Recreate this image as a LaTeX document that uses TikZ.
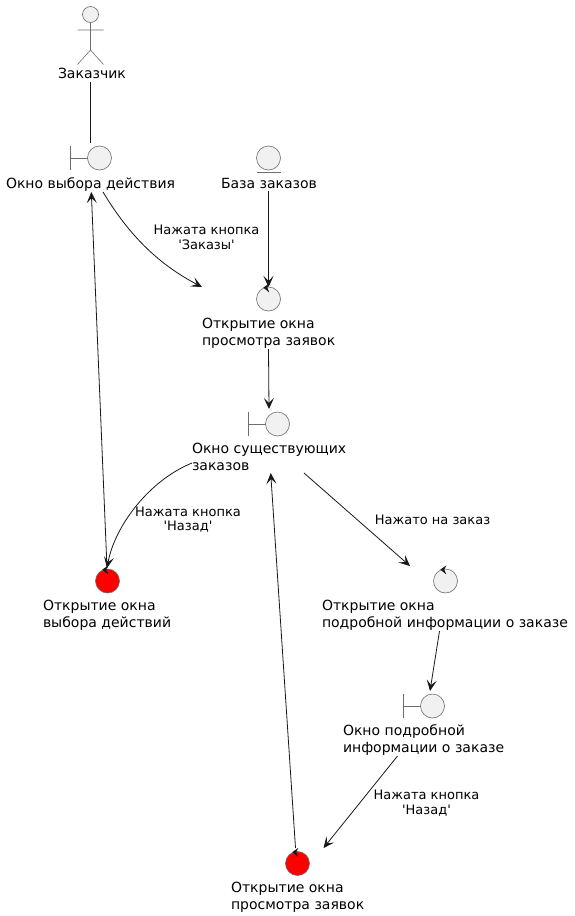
\documentclass[tikz,border=0pt]{standalone}
\usepackage{fontspec}
\newfontfamily\uifont{DejaVu Sans}
\usetikzlibrary{arrows.meta,calc}
\definecolor{edgecol}{HTML}{181818}
\definecolor{shapecol}{HTML}{6E6E6E}
\definecolor{shapefill}{HTML}{F1F1F1}
\tikzset{
  every picture/.style={x=1pt,y=-1pt},
  box/.style={minimum width=#1,inner sep=0pt,outer sep=0pt,draw=none},
  icon/.style={circle,draw=shapecol,fill=shapefill,line width=0.6pt,minimum size=24pt,inner sep=0pt,outer sep=0pt},
  redicon/.style={icon,fill=red},
  stroke/.style={draw=shapecol,line width=0.6pt},
  lbl/.style={font=\uifont\fontsize{14}{16.6}\selectfont,inner sep=0pt,outer sep=0pt,anchor=base west,align=left,text=black},
  elbl/.style={font=\uifont\fontsize{13}{14.5}\selectfont,inner sep=0pt,outer sep=0pt,anchor=base,align=center,text=black},
  link/.style={draw=edgecol,line width=0.8pt},
  flow/.style={link,-{Stealth[length=11pt,width=10pt,inset=5pt,color=edgecol]}},
  ctrl/.style={fill=edgecol,draw=none}
}
\newcommand{\ctrlarrow}[1]{\fill[ctrl] ([shift={(-5.2,0.6)}]#1.north) -- ++(6,-4.2) -- ++(-2,4.2) -- ++(2,4.8) -- cycle;}
\begin{document}
\begin{tikzpicture}
\useasboundingbox (0,0) rectangle (575,916);
% invisible extents of each element
\node[box=67pt,minimum height=76pt] (n1) at (90.5,44) {};
\node[box=169pt,minimum height=49pt] (n2) at (90.5,167.5) {};
\node[box=95pt,minimum height=48pt] (n3) at (268.5,167) {};
\node[box=133pt,minimum height=62pt] (n4) at (268.5,318) {};
\node[box=154pt,minimum height=64pt] (n5) at (269,441) {};
\node[box=129pt,minimum height=63pt] (n6) at (107.5,599.5) {};
\node[box=246pt,minimum height=65pt] (n7) at (445,598.5) {};
\node[box=161pt,minimum height=65pt] (n8) at (423.5,723.5) {};
\node[box=133pt,minimum height=65pt] (n9) at (297.5,880.5) {};
% connectors
\draw[link] (n1.south) -- (n2.north);
\draw[flow] ($(n6.north)+(-0.5,0)$) -- ($(n2.south)+(0.8,0)$);
\draw[flow] ($(n2.south)+(12.5,0)$) .. controls +(27,45) and +(-42,-22) .. (n4.north west);
\draw[flow] (n3.south) -- (n4.north);
\draw[flow] (n4.south) -- (n5.north);
\draw[flow] ($(n5.west)+(0,22)$) .. controls +(-42,17) and +(8,-43) .. ($(n6.north)+(-0.5,0)$);
\draw[flow] ($(n5.south)+(35,0)$) -- ($(n7.north west)+(88,0)$);
\draw[flow] ($(n7.south)+(-5.5,0)$) -- ($(n8.north)+(6.5,0)$);
\draw[flow] ($(n8.south)+(-26,0)$) -- ($(n9.north)+(26,0)$);
\draw[flow] ($(n9.north)+(-2,0)$) -- ($(n5.south)+(1.7,0)$);
% actor
\node[icon,minimum size=16pt] (head) at (90.5,14.5) {};
\coordinate (hip) at (90.5,50);
\draw[stroke] (head.south) -- (hip) (77.5,30) -- (103.5,30) (77.5,64.5) -- (hip) -- (103.5,64.5);
% boundaries
\node[icon] (b1) at (99.5,158) {};
\draw[stroke] (70.5,146) -- (70.5,170) (70.5,158) -- (b1.west);
\node[icon] (b2) at (277.5,424) {};
\draw[stroke] (248.5,412) -- (248.5,436) (248.5,424) -- (b2.west);
\node[icon] (b3) at (432.5,706) {};
\draw[stroke] (403.5,694) -- (403.5,718) (403.5,706) -- (b3.west);
% entity
\node[icon] (e1) at (268.5,158) {};
\draw[stroke] (256.5,172.5) -- (280.5,172.5);
% controls
\node[icon] (c1) at (268.5,299) {};
\ctrlarrow{c1}
\node[redicon] (r1) at (107.5,581) {};
\ctrlarrow{r1}
\node[icon] (c2) at (445.5,581) {};
\ctrlarrow{c2}
\node[redicon] (r2) at (297.5,863.5) {};
\ctrlarrow{r2}
% labels
\node[lbl] (t1) at (58,78) {Заказчик};
\node[lbl] (t2) at (6,188) {Окно выбора действия};
\node[lbl] (t3) at (221,188) {База заказов};
\node[lbl] (t4) at (202,345) {Открытие окна\\просмотра заявок};
\node[lbl] (t5) at (192,470.5) {Окно существующих\\заказов};
\node[lbl] (t6) at (43,627) {Открытие окна\\выбора действий};
\node[lbl] (t7) at (322,627) {Открытие окна\\подробной информации о заказе};
\node[lbl] (t8) at (343,752.5) {Окно подробной\\информации о заказе};
\node[lbl] (t9) at (231,909) {Открытие окна\\просмотра заявок};
\node[elbl] (l1) at (206.5,249) {Нажата кнопка\\'Заказы'};
\node[elbl] (l2) at (188,530.5) {Нажата кнопка\\'Назад'};
\node[elbl] (l3) at (432.5,524) {Нажато на заказ};
\node[elbl] (l4) at (426.5,814) {Нажата кнопка\\'Назад'};
\end{tikzpicture}
\end{document}
